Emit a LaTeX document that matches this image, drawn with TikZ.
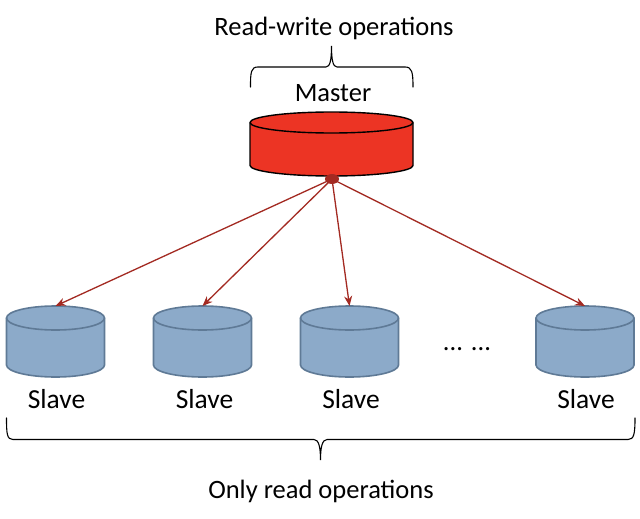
\documentclass[tikz,border=0pt]{standalone}
\usepackage{fontspec}
\setmainfont{Carlito}
\usetikzlibrary{arrows.meta}
\definecolor{mred}{HTML}{EC3424}
\definecolor{sblue}{HTML}{8CAAC9}
\definecolor{sline}{HTML}{5F7A96}
\definecolor{arrowc}{HTML}{A32A22}
\tikzset{
  x=1pt,y=-1pt,
  lbl/.style={font=\fontsize{26.5}{30}\selectfont,text=black,inner sep=0pt},
  slbl/.style={lbl,font=\fontsize{27.5}{30}\selectfont},
  dbbox/.style={inner sep=0pt,outer sep=0pt,minimum width=#1},
  masterdb/.style={draw=black,line width=1.4pt,fill=mred},
  slavedb/.style={draw=sline,line width=1.6pt,fill=sblue},
  link/.style={draw=arrowc,line width=1.3pt,-{Stealth[length=10pt,width=8pt]}},
  brace/.style={draw=black,line width=1.1pt,line cap=round}
}
% name, centre x, top y, bottom y, x radius, y radius, style
\newcommand{\dbcyl}[7]{%
  \node[dbbox=#5*2pt,minimum height=#4pt-#3pt] (#1) at (#2,{(#3+#4)/2}) {};
  \path[#7] (#2-#5,#3+#6) arc[start angle=180,end angle=0,x radius=#5pt,y radius=#6pt]
    -- (#2+#5,#4-#6) arc[start angle=360,end angle=180,x radius=#5pt,y radius=#6pt] -- cycle;
  \draw[#7,fill=none] (#2-#5,#3+#6) arc[start angle=180,end angle=360,x radius=#5pt,y radius=#6pt];
}
\begin{document}
\begin{tikzpicture}
\useasboundingbox (0,0) rectangle (640,519);
\fill[white] (0,0) rectangle (640,519);
\dbcyl{m}{331.5}{112}{176}{81.5}{10.5}{masterdb}
\dbcyl{s1}{55.5}{306}{377}{49}{12}{slavedb}
\dbcyl{s2}{202.5}{306}{377}{49}{12}{slavedb}
\dbcyl{s3}{349.5}{306}{377}{49}{12}{slavedb}
\dbcyl{s4}{585}{306}{377}{49}{12}{slavedb}
\coordinate (src) at (332,179);
\fill[arrowc] (src) ellipse (7pt and 5pt);
\draw[link] (src) -- (s1.north);
\draw[link] (src) -- (s2.north);
\draw[link] (src) -- (s3.north);
\draw[link] (src) -- (s4.north);
\node[lbl] (t1) at (334,28) {Read-write operations};
\node[lbl] (t2) at (333,93) {Master};
\node[slbl] (l1) at (56.5,399) {Slave};
\node[slbl] (l2) at (204.5,399) {Slave};
\node[slbl] (l3) at (351,399) {Slave};
\node[slbl] (l4) at (586,399) {Slave};
\node[lbl] (dots) at (467,349) {... ...};
\node[lbl] (t3) at (321,491) {Only read operations};
\draw[brace] (250.5,87) .. controls (250.5,72) and (251,67) .. (258,67) -- (326,67)
  .. controls (330,67) and (331.5,60) .. (331.5,46)
  .. controls (331.5,60) and (333,67) .. (337,67) -- (405,67)
  .. controls (412,67) and (413,72) .. (413,87);
\draw[brace] (6.5,418) .. controls (6.5,434) and (7,439.5) .. (13,439.5) -- (314,439.5)
  .. controls (319,439.5) and (320.5,448) .. (320.5,460)
  .. controls (320.5,448) and (322,439.5) .. (327,439.5) -- (628,439.5)
  .. controls (634,439.5) and (635,434) .. (635,418);
\end{tikzpicture}
\end{document}
